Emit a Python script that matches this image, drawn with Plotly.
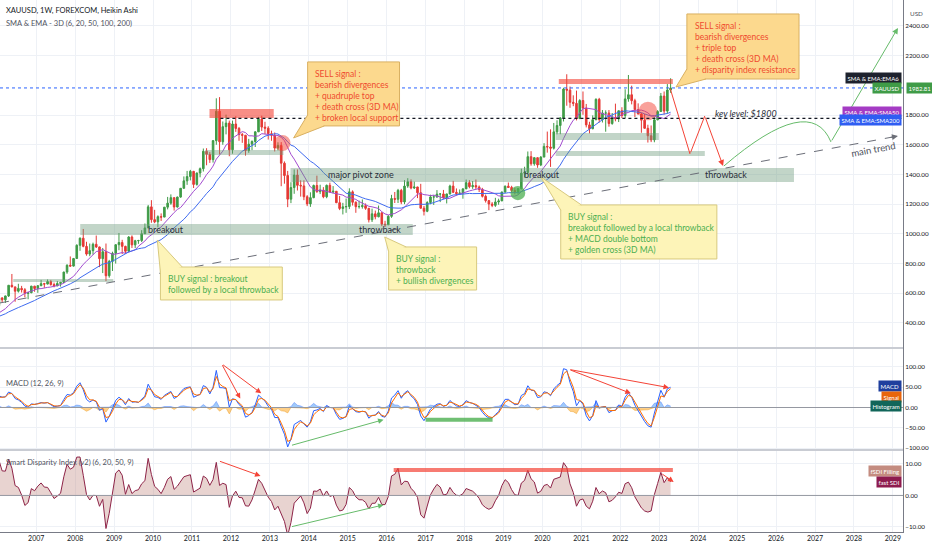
import numpy as np
import pandas as pd
import plotly.graph_objects as go
from plotly.subplots import make_subplots

# monthly gold closes before the visible window (only used to warm up the averages)
warm_close = [400, 396, 424, 388, 394, 394, 391, 408, 416, 426, 453, 438,
              422, 435, 428, 436, 415, 437, 429, 433, 473, 470, 495, 517]

# monthly XAUUSD, Jan 2006 .. Apr 2023
close = [569, 556, 582, 654, 643, 614, 633, 624, 599, 604, 648, 632,
         651, 665, 662, 679, 659, 650, 666, 673, 743, 789, 783, 834,
         923, 971, 916, 864, 887, 930, 912, 833, 880, 718, 815, 869,
         927, 942, 916, 883, 979, 926, 954, 955, 1001, 1040, 1182, 1096,
         1081, 1116, 1113, 1180, 1207, 1244, 1181, 1248, 1307, 1357, 1386, 1421,
         1333, 1410, 1439, 1556, 1536, 1500, 1628, 1826, 1620, 1722, 1746, 1566,
         1740, 1710, 1669, 1664, 1561, 1604, 1622, 1687, 1773, 1719, 1712, 1675,
         1664, 1578, 1596, 1476, 1393, 1234, 1312, 1396, 1327, 1323, 1250, 1202,
         1244, 1326, 1284, 1295, 1250, 1327, 1282, 1287, 1210, 1171, 1182, 1184,
         1283, 1213, 1183, 1184, 1190, 1172, 1095, 1135, 1115, 1142, 1065, 1061,
         1118, 1238, 1233, 1293, 1215, 1322, 1351, 1309, 1316, 1277, 1173, 1152,
         1211, 1249, 1249, 1268, 1269, 1242, 1269, 1322, 1280, 1271, 1275, 1303,
         1345, 1318, 1325, 1316, 1299, 1253, 1224, 1201, 1192, 1215, 1222, 1282,
         1321, 1313, 1292, 1284, 1305, 1409, 1414, 1520, 1472, 1513, 1464, 1517,
         1589, 1585, 1577, 1687, 1730, 1781, 1975, 1968, 1886, 1879, 1776, 1898,
         1847, 1734, 1708, 1769, 1906, 1770, 1814, 1814, 1743, 1783, 1774, 1829,
         1797, 1909, 1937, 1897, 1837, 1807, 1766, 1711, 1661, 1633, 1768, 1824,
         1928, 1827, 1969, 1982.81]
high = [570, 573, 584, 654, 730, 645, 664, 650, 635, 610, 650, 650,
        655, 690, 670, 693, 690, 672, 683, 677, 745, 795, 848, 838,
        930, 976, 1033, 947, 935, 941, 989, 914, 905, 935, 825, 880,
        930, 1006, 960, 920, 985, 990, 960, 960, 1025, 1070, 1195, 1227,
        1162, 1125, 1138, 1180, 1249, 1266, 1245, 1251, 1308, 1387, 1424, 1431,
        1424, 1413, 1447, 1575, 1577, 1552, 1632, 1913, 1921, 1757, 1803, 1763,
        1763, 1792, 1720, 1680, 1666, 1640, 1630, 1691, 1788, 1796, 1755, 1725,
        1695, 1683, 1617, 1618, 1488, 1424, 1348, 1434, 1434, 1361, 1361, 1261,
        1280, 1332, 1392, 1331, 1315, 1332, 1345, 1322, 1287, 1255, 1209, 1238,
        1307, 1293, 1219, 1224, 1232, 1205, 1175, 1170, 1157, 1191, 1143, 1088,
        1127, 1263, 1282, 1303, 1303, 1362, 1375, 1367, 1352, 1317, 1337, 1188,
        1220, 1264, 1261, 1295, 1272, 1296, 1270, 1331, 1357, 1306, 1299, 1308,
        1366, 1362, 1356, 1366, 1326, 1310, 1265, 1226, 1214, 1243, 1237, 1284,
        1326, 1346, 1324, 1310, 1306, 1439, 1452, 1555, 1557, 1517, 1515, 1524,
        1611, 1689, 1704, 1747, 1765, 1786, 1984, 2075, 1992, 1933, 1965, 1907,
        1959, 1875, 1755, 1798, 1913, 1916, 1834, 1832, 1834, 1814, 1877, 1831,
        1853, 1974, 2070, 1998, 1910, 1879, 1814, 1808, 1735, 1730, 1786, 1833,
        1949, 1959, 2009, 2048]
low = [515, 540, 535, 575, 640, 543, 605, 605, 573, 560, 600, 610,
       603, 648, 637, 660, 651, 640, 648, 645, 670, 731, 780, 780,
       834, 886, 910, 853, 850, 860, 905, 776, 736, 682, 705, 750,
       800, 890, 864, 866, 877, 905, 905, 933, 945, 1000, 1040, 1075,
       1072, 1044, 1087, 1113, 1165, 1196, 1157, 1177, 1243, 1305, 1330, 1360,
       1309, 1325, 1381, 1420, 1462, 1478, 1480, 1600, 1535, 1600, 1670, 1523,
       1540, 1687, 1627, 1613, 1527, 1546, 1564, 1585, 1686, 1693, 1672, 1635,
       1627, 1555, 1562, 1321, 1338, 1180, 1207, 1270, 1292, 1251, 1227, 1187,
       1182, 1240, 1277, 1268, 1240, 1240, 1280, 1273, 1207, 1160, 1131, 1142,
       1167, 1191, 1142, 1170, 1170, 1162, 1077, 1080, 1098, 1112, 1052, 1046,
       1060, 1108, 1208, 1208, 1200, 1200, 1310, 1300, 1302, 1241, 1171, 1124,
       1146, 1200, 1195, 1242, 1214, 1236, 1205, 1266, 1275, 1260, 1264, 1237,
       1302, 1307, 1303, 1301, 1282, 1245, 1211, 1160, 1180, 1182, 1196, 1221,
       1276, 1310, 1280, 1266, 1266, 1300, 1382, 1400, 1459, 1459, 1445, 1456,
       1517, 1547, 1451, 1568, 1670, 1671, 1757, 1863, 1849, 1860, 1764, 1775,
       1802, 1717, 1677, 1705, 1765, 1750, 1750, 1688, 1722, 1735, 1758, 1753,
       1780, 1780, 1890, 1872, 1787, 1805, 1681, 1709, 1615, 1618, 1617, 1765,
       1823, 1804, 1810, 1950]
first_open = 517
year_ticks = list(range(2007, 2030))
price_ticks = [400, 600, 800, 1000, 1200, 1400, 1600, 1800, 2200, 2400]
macd_ticks = [-100, -50, 0, 50, 100]
sdi_ticks = [-10, 0, 10]
last_price = 1982.81
ema6_value = 2050

months = pd.date_range("2006-01-01", periods=len(close), freq="MS")
t = np.array(months.year + (months.month - 1) / 12 + 1 / 24)
opens = [first_open] + close[:-1]

full = pd.Series(warm_close + close, dtype=float)
n0 = len(warm_close)
sma_fast = full.rolling(10).mean().iloc[n0:].values
sma_slow = full.rolling(20).mean().iloc[n0:].values
macd_full = full.ewm(span=3, adjust=False).mean() - full.ewm(span=6, adjust=False).mean()
sig_full = macd_full.ewm(span=2, adjust=False).mean()
macd = macd_full.iloc[n0:].values
signal = sig_full.iloc[n0:].values
hist = macd - signal
base = full.rolling(6).mean()
sdi = ((full.ewm(span=2, adjust=False).mean() - base) / base * 100).iloc[n0:].values

fig = make_subplots(rows=3, cols=1, shared_xaxes=True, vertical_spacing=0,
                    row_heights=[0.654, 0.192, 0.154])

fig.add_trace(go.Candlestick(x=t, open=opens, high=high, low=low, close=close,
                             increasing=dict(line=dict(color="#3f9b47", width=1), fillcolor="#3f9b47"),
                             decreasing=dict(line=dict(color="#e53935", width=1), fillcolor="#e53935"),
                             whiskerwidth=0, hoverinfo="skip"), row=1, col=1)
fig.add_trace(go.Scatter(x=t, y=sma_fast, mode="lines", line=dict(color="#a24bcf", width=1)), row=1, col=1)
fig.add_trace(go.Scatter(x=t, y=sma_slow, mode="lines", line=dict(color="#3f6bf0", width=1)), row=1, col=1)

# histogram drawn as filled areas, positive part blue and negative part orange
fig.add_trace(go.Scatter(x=t, y=np.where(hist > 0, hist, 0), mode="lines", fill="tozeroy",
                         fillcolor="rgba(66,150,245,0.5)", line=dict(color="rgba(41,98,255,0.6)", width=0.6)),
              row=2, col=1)
fig.add_trace(go.Scatter(x=t, y=np.where(hist < 0, hist, 0), mode="lines", fill="tozeroy",
                         fillcolor="rgba(255,170,40,0.55)", line=dict(color="rgba(230,140,0,0.6)", width=0.6)),
              row=2, col=1)
fig.add_trace(go.Scatter(x=t, y=macd, mode="lines", line=dict(color="#2962ff", width=1)), row=2, col=1)
fig.add_trace(go.Scatter(x=t, y=signal, mode="lines", line=dict(color="#ff6d00", width=1)), row=2, col=1)

fig.add_trace(go.Scatter(x=t, y=sdi, mode="lines", fill="tozeroy", fillcolor="rgba(190,130,120,0.35)",
                         line=dict(color="#8e2448", width=1)), row=3, col=1)

grid = "#eef1f6"
xr = [2006.07, 2029.26]
for i in (1, 2, 3):
    fig.update_xaxes(range=xr, tickvals=year_ticks, ticktext=[str(y) for y in year_ticks],
                     showgrid=True, gridcolor=grid, zeroline=False, showticklabels=(i == 3),
                     tickfont=dict(size=7, color="#131722", family="Lato"), ticks="", ticklen=0,
                     row=i, col=1)
fig.update_xaxes(showline=True, linecolor="#787b86", linewidth=1, row=3, col=1)
fig.update_layout(xaxis_rangeslider_visible=False)

yfont = dict(size=6.3, color="#131722", family="Lato")
fig.update_yaxes(side="right", range=[232, 2575], tickvals=price_ticks, tickformat=".2f",
                 row=1, col=1)
fig.update_yaxes(side="right", range=[-105, 147], tickvals=macd_ticks, tickformat=".2f",
                 row=2, col=1)
fig.update_yaxes(side="right", range=[-11.6, 14.4], tickvals=sdi_ticks, tickformat=".2f",
                 row=3, col=1)
fig.update_yaxes(showgrid=True, gridcolor=grid, zeroline=False, tickfont=yfont, ticks="", ticklen=0,
                 showline=True, linecolor="#787b86", linewidth=1, automargin=False)
fig.update_layout(yaxis=dict(domain=[0.346, 1]), yaxis2=dict(domain=[0.154, 0.346]),
                  yaxis3=dict(domain=[0, 0.154]))

shapes = []
ann = []

# pane separators and zero lines
for yy in (0.346, 0.154):
    shapes.append(dict(type="line", xref="paper", yref="paper", x0=0, x1=1, y0=yy, y1=yy,
                       line=dict(color="#c9ccd3", width=2)))
shapes.append(dict(type="line", xref="x2 domain", yref="y2", x0=0, x1=1, y0=0, y1=0,
                   line=dict(color="#9598a1", width=1)))
shapes.append(dict(type="line", xref="x3 domain", yref="y3", x0=0, x1=1, y0=0, y1=0,
                   line=dict(color="#9598a1", width=1)))

# zones
green_zone = "rgba(110,155,125,0.42)"
red_zone = "rgba(244,67,54,0.6)"
zones = [(2006.41, 2008.98, 676, 696, green_zone),
         (2008.13, 2016.67, 993, 1067, green_zone),
         (2011.34, 2013.35, 1531, 1565, green_zone),
         (2011.45, 2013.10, 1780, 1841, red_zone),
         (2013.53, 2026.46, 1349, 1444, green_zone),
         (2020.42, 2023.35, 2009, 2043, red_zone),
         (2020.34, 2022.99, 1632, 1679, green_zone),
         (2020.34, 2024.17, 1525, 1558, green_zone)]
for x0, x1, y0, y1, c in zones:
    shapes.append(dict(type="rect", xref="x", yref="y", x0=x0, x1=x1, y0=y0, y1=y1,
                       fillcolor=c, line=dict(width=0), layer="above"))

# circles
for cx, cy, rx, ry, c in [(2013.32, 1612, 0.21, 54, "rgba(244,67,54,0.5)"),
                          (2022.71, 1827, 0.24, 62, "rgba(244,67,54,0.5)"),
                          (2019.37, 1275, 0.19, 48, "rgba(76,175,80,0.75)")]:
    shapes.append(dict(type="circle", xref="x", yref="y", x0=cx - rx, x1=cx + rx, y0=cy - ry,
                       y1=cy + ry, fillcolor=c, line=dict(width=0), layer="above"))

# horizontal reference lines
shapes.append(dict(type="line", xref="x domain", yref="y", x0=0, x1=1, y0=last_price, y1=last_price,
                   line=dict(color="#2962ff", width=1, dash="dot")))
shapes.append(dict(type="line", xref="x", yref="y", x0=2011.73, x1=2029.26, y0=1778, y1=1778,
                   line=dict(color="#131722", width=1.2, dash="dot")))
# main trend
shapes.append(dict(type="line", xref="x", yref="y", x0=2006.07, x1=2029.13, y0=535, y1=1659,
                   line=dict(color="#6b6e78", width=1, dash="dash")))
ann.append(dict(x=2029.13, y=1659, ax=2028.9, ay=1648, xref="x", yref="y", axref="x", ayref="y",
                text="", showarrow=True, arrowhead=2, arrowsize=1.2, arrowwidth=1, arrowcolor="#6b6e78"))

# projected path
proj = [(2023.27, 1989), (2023.79, 1538), (2024.17, 1794), (2024.64, 1457)]
for k in range(len(proj) - 1):
    ann.append(dict(x=proj[k + 1][0], y=proj[k + 1][1], ax=proj[k][0], ay=proj[k][1],
                    xref="x", yref="y", axref="x", ayref="y", text="", showarrow=True,
                    arrowhead=2 if k == len(proj) - 2 else 0, arrowsize=1.2, arrowwidth=1,
                    arrowcolor="#f44336"))
shapes.append(dict(type="path", xref="x", yref="y", path="M 2024.66,1457 Q 2026.88,1956 2027.41,1619",
                   line=dict(color="#66bb6a", width=1)))
ann.append(dict(x=2029.13, y=2387, ax=2027.41, ay=1619, xref="x", yref="y", axref="x", ayref="y",
                text="", showarrow=True, arrowhead=2, arrowsize=1.2, arrowwidth=1, arrowcolor="#66bb6a"))

# callouts
SELL_FILL, SELL_LINE, SELL_TXT = "#fcd98e", "#d9b062", "#ef4b2e"
BUY_FILL, BUY_LINE, BUY_TXT = "#fdf4b8", "#d8c97e", "#4caf50"
callouts = [
    ((2013.97, 2016.33, 1727, 2158), [(2013.97, 1800), (2013.61, 1646), (2014.4, 1727)],
     (2014.1, 2125), ["SELL signal :", "bearish divergences", "+ quadruple top",
                      "+ death cross (3D MA)", "+ broken local support"], "sell"),
    ((2010.19, 2013.32, 555, 777), [(2010.19, 740), (2010.11, 959), (2010.75, 777)],
     (2010.34, 742), ["BUY signal : breakout", "followed by a local throwback"], "buy"),
    ((2016.05, 2018.31, 622, 912), [(2016.05, 880), (2015.95, 979), (2016.5, 912)],
     (2016.18, 876), ["BUY signal :", "throwback", "+ bullish divergences"], "buy"),
    ((2020.47, 2024.48, 831, 1195), [(2020.47, 1160), (2019.96, 1383), (2021.0, 1195)],
     (2020.6, 1160), ["BUY signal :", "breakout followed by a local throwback",
                      "+ MACD double bottom", "+ golden cross (3D MA)"], "buy"),
    ((2023.71, 2026.59, 2043, 2481), [(2023.71, 2110), (2023.43, 1989), (2024.2, 2043)],
     (2023.86, 2445), ["SELL signal :", "bearish divergences", "+ triple top",
                       "+ death cross (3D MA)", "+ disparity index resistance"], "sell"),
]
for (x0, x1, y0, y1), tail, (tx, ty), lines, kind in callouts:
    fill, edge, tc = (SELL_FILL, SELL_LINE, SELL_TXT) if kind == "sell" else (BUY_FILL, BUY_LINE, BUY_TXT)
    shapes.append(dict(type="rect", xref="x", yref="y", x0=x0, x1=x1, y0=y0, y1=y1,
                       fillcolor=fill, line=dict(color=edge, width=1), layer="above"))
    (ax_, ay_), (bx, by), (cx, cy) = tail
    shapes.append(dict(type="path", xref="x", yref="y", path=f"M {ax_},{ay_} L {bx},{by} L {cx},{cy}",
                       fillcolor=fill, line=dict(color=edge, width=1), layer="above"))
    ann.append(dict(x=tx, y=ty, xref="x", yref="y", xanchor="left", yanchor="top", align="left",
                    showarrow=False, text="<br>".join(lines),
                    font=dict(size=8.5, color=tc, family="Lato")))

# plain labels on the price pane
lab = dict(size=9, color="#2a2e39", family="Lato")
for x, y, s in [(2010.34, 1030, "breakout"), (2015.84, 1030, "throwback"),
                (2015.33, 1397, "major pivot zone"), (2020.0, 1397, "breakout"),
                (2024.71, 1397, "throwback")]:
    ann.append(dict(x=x, y=y, xref="x", yref="y", text=s, showarrow=False, font=lab))
ann.append(dict(x=2024.38, y=1808, xref="x", yref="y", xanchor="left", text="<i>key level: $1800</i>",
                showarrow=False, font=dict(size=9, color="#2a2e39", family="Lato")))
ann.append(dict(x=2028.49, y=1565, xref="x", yref="y", text="main trend", textangle=-10.5,
                showarrow=False, font=dict(size=9.5, color="#4a4e59", family="Lato")))

# indicator arrows
def arrow(x0, y0, x1, y1, axis, color):
    ann.append(dict(x=x1, y=y1, ax=x0, ay=y0, xref="x" + axis, yref="y" + axis, axref="x" + axis,
                    ayref="y" + axis, text="", showarrow=True, arrowhead=2, arrowsize=1.1,
                    arrowwidth=1, arrowcolor=color))

arrow(2011.76, 108, 2012.78, 35, "2", "#f44336")
arrow(2011.76, 108, 2012.24, 22, "2", "#f44336")
arrow(2013.53, -94, 2015.92, -30, "2", "#66bb6a")
arrow(2020.68, 94, 2023.25, 49, "2", "#f44336")
arrow(2020.68, 94, 2022.27, 35, "2", "#f44336")
arrow(2011.68, 11, 2012.76, 6.2, "3", "#f44336")
arrow(2013.53, -10, 2015.92, -3, "3", "#66bb6a")
arrow(2023.04, 7.1, 2023.37, 4.3, "3", "#f44336")
shapes.append(dict(type="line", xref="x2", yref="y2", x0=2017.0, x1=2018.72, y0=-30, y1=-30,
                   line=dict(color="rgba(76,175,80,0.8)", width=4)))
shapes.append(dict(type="line", xref="x3", yref="y3", x0=2016.18, x1=2023.35, y0=8.1, y1=8.1,
                   line=dict(color="rgba(244,67,54,0.7)", width=4)))

# pane titles
def ptext(py, s, color, size=7.5, bold=False):
    ann.append(dict(x=0.004, y=1 - py / 532, xref="paper", yref="paper", xanchor="left",
                    yanchor="middle", showarrow=False, text=f"<b>{s}</b>" if bold else s,
                    font=dict(size=size, color=color, family="Lato")))

ptext(10, "XAUUSD, 1W, FOREXCOM, Heikin Ashi", "#131722", 7.5)
ptext(23, "SMA &amp; EMA - 3D (6, 20, 50, 100, 200)", "#50535e")
ptext(383, "MACD (12, 26, 9)", "#50535e")
ptext(462, "Smart Disparity Index (v2) (6, 20, 50, 9)", "#50535e")
ann.append(dict(x=1.006, y=1 - 8 / 532, xref="paper", yref="paper", xanchor="left", showarrow=False,
                text="USD", font=dict(size=6.3, color="#50535e", family="Lato")))

# value tags at right edge
def tag(axis, y, s, bg, side="in"):
    ann.append(dict(x=0.999 if side == "in" else 1.003, y=y, xref="paper", yref="y" + axis,
                    xanchor="right" if side == "in" else "left", yanchor="middle", showarrow=False,
                    text=s, bgcolor=bg, borderpad=1.5, font=dict(size=6, color="white", family="Lato")))

tag("", ema6_value, "SMA &amp; EMA:EMA6", "#1e222d")
tag("", last_price, "XAUUSD", "#3f9b47")
tag("", last_price, f"{last_price:.2f}", "#3f9b47", side="out")
tag("", sma_fast[-1] + 15, "SMA &amp; EMA:SMA50", "#a43bc4")
tag("", sma_slow[-1] - 55, "SMA &amp; EMA:SMA200", "#2f5df2")
tag("2", 54, "MACD", "#1f3f9e")
tag("2", 27, "Signal", "#e8650c")
tag("2", 2.5, "Histogram", "#11665a")
tag("3", 7.8, "fSDI Filling", "#c48c80")
tag("3", 4.3, "fast SDI", "#8e1b4e")

fig.update_layout(width=932, height=550, margin=dict(l=0, r=29, t=0, b=18, autoexpand=False),
                  plot_bgcolor="white", paper_bgcolor="white", showlegend=False,
                  shapes=shapes, annotations=ann, hovermode=False)

fig.write_html("out.html", config={"displayModeBar": False},
               post_script="document.body.style.margin='0';")
